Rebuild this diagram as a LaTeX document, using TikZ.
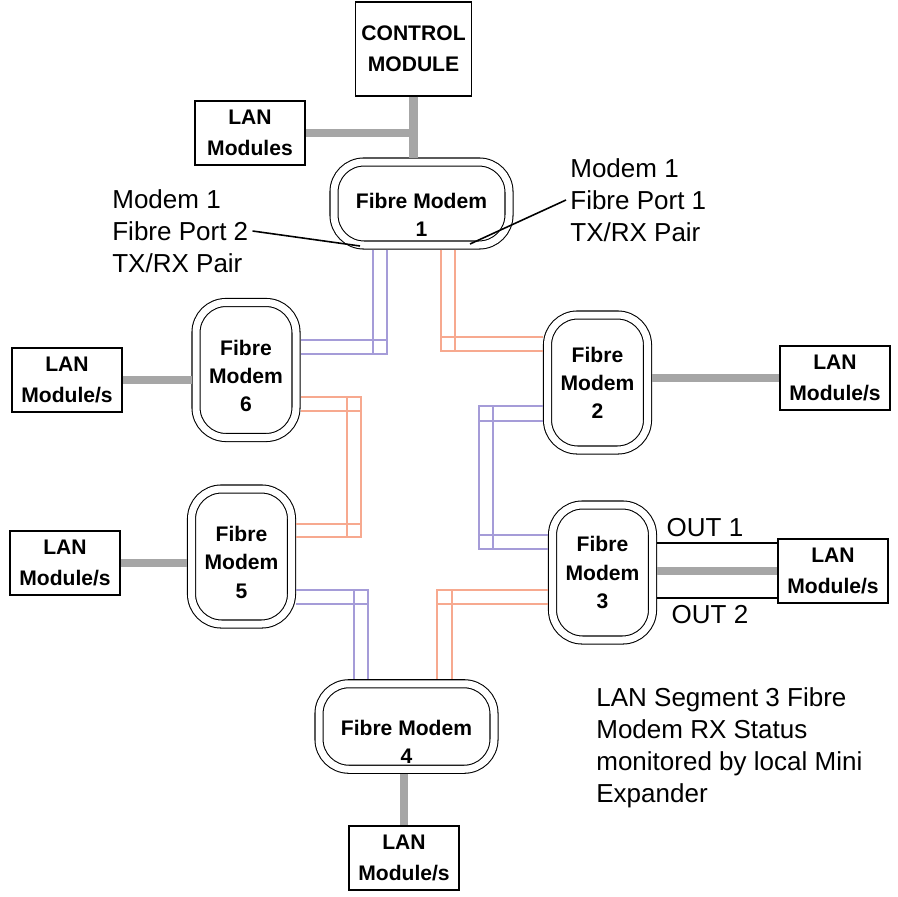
\documentclass[tikz,border=0pt]{standalone}
\usepackage{fontspec}
\setmainfont{Liberation Sans}
\usepackage{tikz}
\usetikzlibrary{positioning,calc}
\definecolor{lanGray}{HTML}{A6A6A6}
\definecolor{fibPurple}{HTML}{A59CD8}
\definecolor{fibOrange}{HTML}{F7A98F}

\begin{document}
\begin{tikzpicture}[x=0.2mm,y=-0.2mm,
			modem/.style={draw=black,line width=0.6pt,double=white,double distance=0.14cm,rounded corners=0.6cm,outer sep=0.09cm,align=center,font=\fontsize{12}{16}\selectfont\bfseries},
			modemv/.style={modem,minimum width=2cm,minimum height=2.7cm},
			modemh/.style={modem,minimum width=3.5cm,minimum height=1.66cm},
			lanbox/.style={draw=black,line width=1pt,minimum width=2.2cm,minimum height=1.28cm,align=center,font=\fontsize{12}{17.5}\selectfont\bfseries},
			lanlink/.style={draw=lanGray,line width=0.17cm},
			fibp/.style={draw=fibPurple,line width=0.8pt},
			fibo/.style={draw=fibOrange,line width=0.8pt},
			wire/.style={draw=black,line width=0.9pt},
			note/.style={align=left,inner sep=0.08cm,font=\fontsize{14.8}{18.3}\selectfont}
			]
			\useasboundingbox (0,0) rectangle (898,896);
			% modems
			\node[modemh] (m1) at (421.5,203.5) {\rule{0pt}{21.6pt}Fibre Modem\\1};
			\node[modemv] (m6) at (246,370) {\rule{0pt}{15.4pt}Fibre\\Modem\\6};
			\node[modemv] (m2) at (597.5,382.5) {Fibre\\Modem\\2};
			\node[modemv] (m5) at (241.5,556.5) {\rule{0pt}{15.4pt}Fibre\\Modem\\5};
			\node[modemv] (m3) at (602.5,572.5) {Fibre\\Modem\\3};
			\node[modemh] (m4) at (406.5,726.5) {\rule{0pt}{26pt}Fibre Modem\\4};
			% LAN side
			\node[lanbox,minimum height=1.87cm] (ctl) at (413.5,49) {CONTROL\\MODULE};
			\node[lanbox] (lanm) at (250,133) {LAN\\Modules};
			\node[lanbox] (lan6) at (67,380) {LAN\\Module/s};
			\node[lanbox] (lan2) at (835,378) {LAN\\Module/s};
			\node[lanbox] (lan5) at (65,563) {LAN\\Module/s};
			\node[lanbox] (lan3) at (833,571) {LAN\\Module/s};
			\node[lanbox] (lan4) at (404,858) {LAN\\Module/s};
			\draw[lanlink] (ctl.south) -- (ctl.south |- m1.north);
			\draw[lanlink] (lanm.east) -- (lanm.east -| ctl.south);
			\draw[lanlink] (lan6.east) -- (lan6.east -| m6.west);
			\draw[lanlink] (m2.east |- lan2.west) -- (lan2.west);
			\draw[lanlink] (lan5.east) -- (lan5.east -| m5.west);
			\draw[lanlink] (m3.east |- lan3.west) -- (lan3.west);
			\draw[lanlink] (m4.south -| lan4.north) -- (lan4.north);
			\draw[wire] ([yshift=0.59cm]m3.east) -- ([yshift=0.59cm]m3.east -| lan3.west);
			\draw[wire] ([yshift=-0.51cm]m3.east) -- ([yshift=-0.51cm]m3.east -| lan3.west);
			% fibre pairs
			\coordinate (c16) at (387,354);
			\coordinate (c12) at (441,351);
			\coordinate (c6a) at (361,397);
			\coordinate (c5a) at (361,537);
			\coordinate (c2a) at (479,406);
			\coordinate (c3a) at (479,549);
			\coordinate (c54) at (368,590);
			\coordinate (c34) at (437,590);
			\draw[fibp] (387,0 |- m1.south) -- (c16) -- (m6.east |- c16);
			\draw[fibp] (373,0 |- m1.south) -- (373,0 |- c16);
			\draw[fibp] (m6.east |- 0,340) -- (c16 |- 0,340);
			\draw[fibo] (441,0 |- m1.south) -- (c12) -- (m2.west |- c12);
			\draw[fibo] (455,0 |- m1.south) -- (455,0 |- c12);
			\draw[fibo] (m2.west |- 0,337) -- (c12 |- 0,337);
			\draw[fibo] (m6.east |- c6a) -- (c6a) -- (c5a) -- (m5.east |- c5a);
			\draw[fibo] (m6.east |- 0,411) -- (c6a |- 0,411);
			\draw[fibo] (m5.east |- 0,524) -- (c5a |- 0,524);
			\draw[fibo] (347,0 |- c6a) -- (347,0 |- c5a);
			\draw[fibp] (m2.west |- c2a) -- (c2a) -- (c3a) -- (m3.west |- c3a);
			\draw[fibp] (m2.west |- 0,421) -- (c2a |- 0,421);
			\draw[fibp] (m3.west |- 0,535) -- (c3a |- 0,535);
			\draw[fibp] (493,0 |- c2a) -- (493,0 |- c3a);
			\draw[fibp] (m5.east |- c54) -- (c54) -- (c54 |- m4.north);
			\draw[fibp] (m5.east |- 0,604) -- (c54 |- 0,604);
			\draw[fibp] (354,0 |- c54) -- (354,0 |- m4.north);
			\draw[fibo] (m3.west |- c34) -- (c34) -- (c34 |- m4.north);
			\draw[fibo] (m3.west |- 0,604) -- (c34 |- 0,604);
			\draw[fibo] (452,0 |- c34) -- (452,0 |- m4.north);
			% labels
			\node[note,anchor=west] (p2) at (108,231) {Modem 1\\Fibre Port 2\\TX/RX Pair};
			\node[note,anchor=west] (p1) at (566,200) {Modem 1\\Fibre Port 1\\TX/RX Pair};
			\coordinate (p2end) at (360,246);
			\coordinate (p1end) at (470,244);
			\draw[wire] (p2.east) -- (p2end);
			\draw[wire] (p1.west) -- (p1end);
			\node[note] (o1) at (705,528) {OUT 1};
			\node[note] (o2) at (710,615) {OUT 2};
			\node[note,anchor=west,inner sep=0pt] (seg) at (596,748) {LAN Segment 3 Fibre\\Modem RX Status\\monitored by local Mini\\Expander};
		\end{tikzpicture}
\end{document}
